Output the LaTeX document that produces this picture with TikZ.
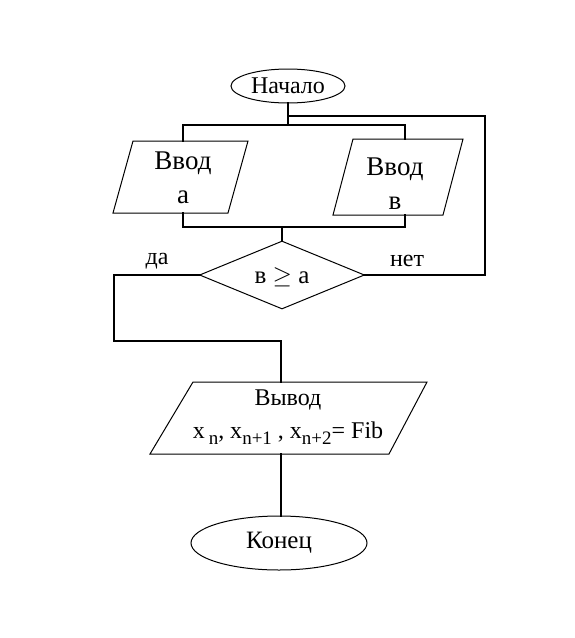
\documentclass[tikz,border=0pt]{standalone}
\usepackage{fontspec}
\setmainfont{Liberation Serif}
\usetikzlibrary{shapes.geometric}
\begin{document}
\begin{tikzpicture}[x=1pt,y=-1pt,
  conn/.style={line width=2.4pt, line cap=rect},
  outline/.style={line width=1pt},
  txt/.style={inner sep=0pt, align=center},
  term/.style={draw, ellipse, outline, inner sep=0pt}]
\fill[white] (0,0) rectangle (575,638);
\useasboundingbox (0,0) rectangle (575,638);

% terminals
\node[term, minimum width=114pt, minimum height=34pt, font=\fontsize{24}{28}\selectfont] (start) at (288,86) {Начало};
\node[term, minimum width=176pt, minimum height=54pt, font=\fontsize{25}{30}\selectfont] (stop) at (279,543) {Конец};

% input a
\draw[outline] (133,141) -- (248,141) -- (228,213) -- (113,213) -- cycle;
\coordinate (ina-t) at (183,141);
\coordinate (ina-b) at (183,213);
\node[txt, font=\fontsize{27}{34}\selectfont] (ina) at (183,178) {Ввод\\а};

% input b
\draw[outline] (353,139) -- (463,139) -- (443,215) -- (333,215) -- cycle;
\coordinate (inb-t) at (405,139);
\coordinate (inb-b) at (405,215);
\node[txt, font=\fontsize{27}{34}\selectfont] (inb) at (395,184) {Ввод\\в};

% decision
\node[draw, outline, diamond, aspect=2.43, minimum width=165pt, minimum height=68pt, inner sep=0pt] (dec) at (282,275) {};
\node[txt, font=\fontsize{25}{30}\selectfont] (dect) at (282,277) {в $\geq$ а};

% output
\draw[outline] (193,382) -- (427,382) -- (389,454) -- (150,454) -- cycle;
\coordinate (out-t) at (281,382);
\coordinate (out-b) at (281,454);
\node[txt, font=\fontsize{24}{33}\selectfont] (out) at (288,417) {Вывод\\x\,\raisebox{-0.5ex}{\fontsize{19}{19}\selectfont n}, x\raisebox{-0.5ex}{\fontsize{19}{19}\selectfont n+1} , x\raisebox{-0.5ex}{\fontsize{19}{19}\selectfont n+2}= Fib};

% labels
\node[txt, font=\fontsize{24}{26}\selectfont] (yes) at (157,261) {да};
\node[txt, font=\fontsize{24}{26}\selectfont] (no) at (407,261) {нет};

% junctions
\coordinate (j0) at (288,116);
\coordinate (j1) at (288,125);
\coordinate (jl) at (183,125);
\coordinate (jr) at (405,125);
\coordinate (m0) at (183,227);
\coordinate (m1) at (405,227);
\coordinate (m) at (282,227);
\coordinate (r1) at (485,275);
\coordinate (r2) at (485,116);
\coordinate (l1) at (114,275);
\coordinate (l2) at (114,341);
\coordinate (l3) at (281,341);

% connectors
\draw[conn] (start.south) -- (j1);
\draw[conn] (jl) -- (jr);
\draw[conn] (jl) -- (ina-t);
\draw[conn] (jr) -- (inb-t);
\draw[conn] (ina-b) -- (m0) -- (m1) -- (inb-b);
\draw[conn] (m) -- (dec.north);
\draw[conn] (dec.east) -- (r1) -- (r2) -- (j0);
\draw[conn] (dec.west) -- (l1) -- (l2) -- (l3) -- (out-t);
\draw[conn] (out-b) -- (out-b |- stop.north);
\end{tikzpicture}
\end{document}
